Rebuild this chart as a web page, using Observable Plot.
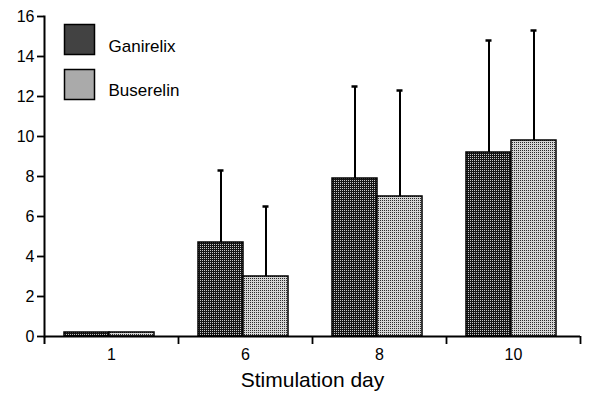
<!DOCTYPE html>
<html>
<head>
<meta charset="utf-8">
<script src="https://cdn.jsdelivr.net/npm/d3@7"></script>
<script src="https://cdn.jsdelivr.net/npm/@observablehq/plot@0.6"></script>
<style>
  html, body { margin: 0; padding: 0; background: #fff; }
  svg { font-family: "Liberation Sans", Arial, Helvetica, sans-serif; }
</style>
</head>
<body>
<div id="chart"></div>
<script>
const days = ["1", "6", "8", "10"];
const series = ["Ganirelix", "Buserelin"];
const ganirelixMean = [0.2, 4.7, 7.9, 9.2];
const ganirelixUpper = [0.2, 8.3, 12.5, 14.8];
const buserelinMean = [0.2, 3.0, 7.0, 9.8];
const buserelinUpper = [0.2, 6.5, 12.3, 15.3];
const yTicks = [0, 2, 4, 6, 8, 10, 12, 14, 16];

const gan = days.map((d, i) => ({day: d, mean: ganirelixMean[i], upper: ganirelixUpper[i]}));
const bus = days.map((d, i) => ({day: d, mean: buserelinMean[i], upper: buserelinUpper[i]}));
const ganErr = gan.filter(d => d.upper > d.mean);
const busErr = bus.filter(d => d.upper > d.mean);

const W = 605, H = 396, mL = 44, mR = 25, mT = 16, mB = 60;
const step = (W - mL - mR) / days.length;   // band width
const pad = 20, bw = 45;                    // bar layout within band
const darkCenter = pad + bw / 2 - step / 2;
const lightCenter = pad + bw * 1.5 - step / 2;
const FONT = 16;

const chart = Plot.plot({
  width: W, height: H,
  marginLeft: mL, marginRight: mR, marginTop: mT, marginBottom: mB,
  style: {fontFamily: '"Liberation Sans", Arial, sans-serif', fontSize: FONT + "px", color: "#000", background: "#fff"},
  x: {type: "band", domain: days, padding: 0},
  y: {domain: [0, 16]},
  marks: [
    // bars
    Plot.barY(gan, {x: "day", y: "mean", fill: "url(#patDark)", stroke: "#000", strokeWidth: 1.5,
      insetLeft: pad, insetRight: step - pad - bw}),
    Plot.barY(bus, {x: "day", y: "mean", fill: "url(#patLight)", stroke: "#000", strokeWidth: 1.5,
      insetLeft: pad + bw, insetRight: step - pad - 2 * bw}),
    // error bars
    Plot.ruleX(ganErr, {x: "day", y1: "mean", y2: "upper", dx: darkCenter, stroke: "#000", strokeWidth: 2}),
    Plot.ruleX(busErr, {x: "day", y1: "mean", y2: "upper", dx: lightCenter, stroke: "#000", strokeWidth: 2}),
    Plot.tickY(ganErr, {x: "day", y: "upper", stroke: "#000", strokeWidth: 2.5,
      insetLeft: pad + bw / 2 - 3, insetRight: step - pad - bw / 2 - 3}),
    Plot.tickY(busErr, {x: "day", y: "upper", stroke: "#000", strokeWidth: 2.5,
      insetLeft: pad + bw * 1.5 - 3, insetRight: step - pad - bw * 1.5 - 3}),
    // axes
    Plot.ruleY([0], {stroke: "#000", strokeWidth: 2}),
    Plot.frame({anchor: "left", stroke: "#000", strokeWidth: 2}),
    Plot.axisY({ticks: yTicks, tickSize: 7, tickPadding: 3, strokeWidth: 1.8, label: null, fontSize: FONT, fill: "#000"}),
    Plot.axisX({tickSize: 0, tickPadding: 12, label: null, fontSize: FONT, fill: "#000"}),
    Plot.axisX({ticks: days, tickSize: 8, tickFormat: () => "", dx: step / 2, label: null, strokeWidth: 1.8}),
    Plot.axisX({ticks: [days[0]], tickSize: 8, tickFormat: () => "", dx: -step / 2, label: null, strokeWidth: 2}),
    Plot.text(["Stimulation day"], {frameAnchor: "bottom", dy: 50, fontSize: 21, fill: "#000"}),
    // legend
    Plot.dot([series[0]], {frameAnchor: "top-left", dx: 35, dy: 23, symbol: "square", r: 30 / Math.sqrt(Math.PI),
      fill: "url(#patDark)", stroke: "#000", strokeWidth: 1.5}),
    Plot.dot([series[1]], {frameAnchor: "top-left", dx: 35, dy: 68, symbol: "square", r: 30 / Math.sqrt(Math.PI),
      fill: "url(#patLight)", stroke: "#000", strokeWidth: 1.5}),
    Plot.text([series[0]], {text: d => d, frameAnchor: "top-left", dx: 64, dy: 23, textAnchor: "start", fontSize: 17, fill: "#000"}),
    Plot.text([series[1]], {text: d => d, frameAnchor: "top-left", dx: 64, dy: 67, textAnchor: "start", fontSize: 17, fill: "#000"})
  ]
});

const ns = "http://www.w3.org/2000/svg";
const defs = document.createElementNS(ns, "defs");
defs.innerHTML = `
  <pattern id="patDark" width="2" height="2" patternUnits="userSpaceOnUse">
    <rect width="2" height="2" fill="#151515"/>
    <rect x="0" y="0" width="1" height="1" fill="#c8c8c8"/>
  </pattern>
  <pattern id="patLight" width="2" height="2" patternUnits="userSpaceOnUse">
    <rect width="2" height="2" fill="#d4d4d4"/>
    <rect x="0" y="0" width="1" height="1" fill="#2a2a2a"/>
  </pattern>`;
chart.insertBefore(defs, chart.firstChild);
document.getElementById("chart").appendChild(chart);
</script>
</body>
</html>
